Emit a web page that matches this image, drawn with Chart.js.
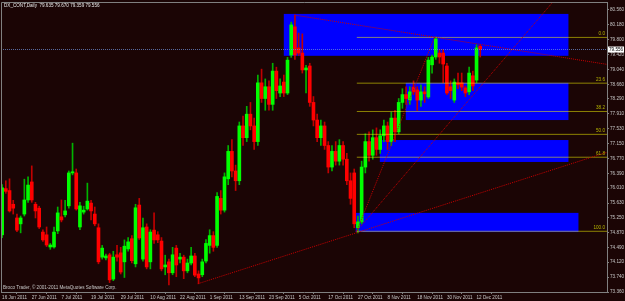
<!DOCTYPE html>
<html><head><meta charset="utf-8">
<script src="https://cdn.jsdelivr.net/npm/chart.js@4.4.1/dist/chart.umd.min.js"></script>
<style>html,body{margin:0;padding:0;background:#1b0505;overflow:hidden}</style>
</head><body><canvas id="c" width="625" height="301"></canvas>
<script>
// ---- data ----
const opens  = [74.82,76.00,75.95,75.60,75.25,75.10,75.35,75.71,76.17,75.60,75.50,74.89,74.82,74.51,74.51,74.92,75.28,75.33,75.56,76.40,76.40,75.02,75.40,75.48,75.63,75.35,75.00,74.25,74.23,74.31,73.69,74.31,74.36,74.13,74.46,74.72,74.08,75.58,74.20,75.02,74.13,74.94,74.82,74.66,74.00,74.13,73.85,74.48,74.20,74.25,73.90,74.10,74.28,73.82,73.80,74.15,74.55,74.80,74.55,75.75,75.45,76.25,76.95,76.45,76.20,77.60,77.30,77.90,77.60,77.20,78.70,78.30,78.60,78.15,79.00,78.44,78.72,78.44,79.41,80.13,79.59,79.46,79.03,79.13,78.20,77.75,77.30,77.60,77.10,76.55,76.95,76.70,77.10,76.75,76.20,76.40,75.00,75.15,76.55,77.20,76.85,77.30,77.00,77.35,77.60,77.20,77.80,77.45,78.20,78.40,78.26,78.59,78.52,78.26,78.47,78.34,79.16,79.36,79.46,79.46,79.13,78.60,78.26,78.70,78.70,78.57,78.47,78.88,78.77,79.635];
const highs  = [76.10,76.20,76.25,75.70,75.35,75.30,76.24,76.30,76.58,75.65,75.55,74.95,75.02,74.60,75.02,75.53,75.71,75.70,76.45,77.16,76.50,75.65,75.55,76.14,75.70,75.53,75.10,74.55,74.33,74.35,74.40,74.55,74.50,74.69,74.75,74.80,75.60,75.75,75.25,75.10,74.95,75.38,74.90,74.75,74.30,74.20,74.50,74.55,74.35,74.30,74.20,74.50,74.35,73.90,74.20,74.70,74.95,74.90,75.90,75.95,76.40,77.10,77.25,76.60,77.70,77.85,78.10,78.20,77.80,78.90,79.05,78.80,78.75,79.20,79.10,78.80,78.90,79.35,80.25,80.43,79.97,79.95,79.15,79.20,78.35,77.90,77.75,77.70,77.20,77.10,77.20,77.25,77.20,76.90,76.40,76.50,75.30,76.70,77.40,77.45,77.50,77.55,77.50,77.75,77.70,77.95,78.00,78.30,78.55,78.60,78.60,78.75,78.60,78.65,78.60,79.35,79.41,79.87,79.55,79.55,79.20,78.75,78.80,78.95,78.95,78.62,79.10,79.00,79.67,79.670];
const lows   = [74.75,75.88,75.40,75.35,74.90,74.87,75.30,75.65,75.65,75.25,74.98,74.65,74.52,74.45,74.48,74.85,75.15,75.28,75.50,76.35,75.45,74.95,75.35,75.45,75.20,75.05,74.08,74.20,74.18,73.60,73.65,74.15,73.82,73.73,74.40,74.10,74.00,74.70,74.15,73.95,73.95,74.60,74.62,73.90,73.80,73.54,73.80,73.75,74.10,73.70,73.85,74.05,73.75,73.57,73.75,74.10,74.35,74.40,74.50,75.35,75.40,76.10,76.30,75.95,76.10,77.10,77.20,77.50,77.00,77.10,78.20,78.00,78.00,78.00,78.30,78.35,78.35,78.40,79.35,79.30,79.40,78.95,78.44,78.10,77.60,77.20,77.10,77.00,76.40,76.45,76.60,76.60,76.60,76.10,75.60,75.00,74.87,75.10,76.40,76.70,76.75,76.85,76.90,77.20,77.00,77.10,77.20,77.40,78.05,78.15,78.15,78.40,78.00,78.10,78.20,78.30,78.95,79.30,79.20,78.70,78.40,78.30,78.20,78.55,78.50,78.35,78.40,78.50,78.70,79.359];
const closes = [76.02,75.93,75.43,75.50,74.94,75.25,75.71,76.09,75.71,75.43,75.02,74.69,74.56,74.56,74.89,75.38,75.20,75.43,76.40,76.43,75.48,75.56,75.45,75.68,75.43,75.10,74.13,74.48,74.28,73.67,74.25,74.25,73.87,74.53,74.64,74.16,75.51,74.74,75.00,74.00,74.89,74.69,74.69,73.95,74.05,73.85,74.31,74.05,74.25,73.90,74.10,74.28,73.79,73.72,74.13,74.60,74.80,74.50,75.80,75.45,76.30,76.95,76.45,76.20,77.60,77.30,77.90,77.60,77.20,78.70,78.30,78.60,78.15,79.00,78.50,78.62,78.44,79.28,80.18,79.41,79.46,79.03,79.08,78.20,77.75,77.30,77.60,77.10,76.55,76.95,76.70,77.10,76.75,76.20,75.75,75.10,75.15,76.55,77.20,76.85,77.30,77.00,77.35,77.60,77.20,77.80,77.45,78.20,78.40,78.30,78.47,78.47,78.26,78.47,78.42,79.28,79.36,79.82,79.36,79.18,78.44,78.50,78.72,78.65,78.59,78.44,78.95,78.62,79.59,79.556];

const xTickBars   = [0,8,16,24,32,40,48,56,64,72,80,88,96,104,112,120,128];
const xTickLabels = ['16 Jun 2011','27 Jun 2011','7 Jul 2011','19 Jul 2011','29 Jul 2011','10 Aug 2011','22 Aug 2011','1 Sep 2011','13 Sep 2011','23 Sep 2011','5 Oct 2011','17 Oct 2011','27 Oct 2011','8 Nov 2011','18 Nov 2011','30 Nov 2011','12 Dec 2011'];
const yTickValues = [80.56,80.18,79.80,79.42,79.04,78.66,78.29,77.91,77.53,77.15,76.77,76.39,76.01,75.63,75.25,74.87,74.49,74.12,73.74,73.36];
const yTickLabels = ['80.560','80.180','79.800','79.420','79.040','78.660','78.290','77.910','77.530','77.150','76.770','76.390','76.010','75.630','75.250','74.870','74.490','74.120','73.740','73.360'];

// zones (bar index / price)
const zoneStartBar = [76.0, 108.9, 101.9, 95.4];
const zoneEndBar   = [152.8, 152.8, 152.8, 155.5];
const zoneTop      = [80.46, 78.70, 77.24, 75.38];
const zoneBottom   = [79.39, 77.75, 76.68, 74.89];

// trend lines: anchor bar/price pairs
const trendBarA   = [78.9, 95.4, 52.8, 95.7];
const trendPriceA = [80.43, 74.89, 73.57, 74.92];
const trendBarB   = [163.3, 152.0, 163.3, 116.7];
const trendPriceB = [79.17, 81.14, 76.93, 79.87];

// fibonacci retracement
const fibHigh = 79.86, fibLow = 74.91, fibStartBar = 95.7;
const fibRatios = [0, 23.6, 38.2, 50.0, 61.8, 100.0];
const fibLabels = ['0.0','23.6','38.2','50.0','61.8','100.0'];

const symbolTitle = 'DX_CONT,Daily  79.635 79.670 79.359 79.556';
const copyrightText = 'Broco Trader, \u00a9 2001-2011 MetaQuotes Software Corp.';
const bidPrice = 79.556;

// ---- chart ----
const X_MIN = -0.3, X_MAX = 163.2, Y_MIN = 73.36, Y_MAX = 80.764;
const FONT = 'Liberation Sans';
const BG = '#1b0505';
const idx = opens.map((_, i) => i);
const up = idx.map(i => closes[i] >= opens[i]);

const datasets = [];
datasets.push({
  type: 'bar', label: 'bodies', order: 2, grouped: false,
  data: idx.map(i => ({x: i, y: [opens[i], closes[i]]})),
  backgroundColor: idx.map(i => up[i] ? '#00ff00' : '#ff0000'),
  borderWidth: 0, barThickness: 3, minBarLength: 1
});
datasets.push({
  type: 'bar', label: 'wicks', order: 3, grouped: false,
  data: idx.map(i => ({x: i, y: [lows[i], highs[i]]})),
  backgroundColor: idx.map(i => up[i] ? '#00b400' : '#c00000'),
  borderWidth: 0, barThickness: 1, minBarLength: 1
});
trendBarA.forEach((b, k) => {
  datasets.push({
    type: 'line', label: 'trend' + k, order: 1,
    data: [{x: b, y: trendPriceA[k]}, {x: trendBarB[k], y: trendPriceB[k]}],
    borderColor: '#c80000', borderWidth: 1, borderDash: [1, 1],
    pointRadius: 0, fill: false, tension: 0
  });
});
fibRatios.forEach((r, k) => {
  const p = fibHigh - (fibHigh - fibLow) * r / 100;
  datasets.push({
    type: 'line', label: 'fib' + k, order: 1,
    data: [{x: fibStartBar, y: p}, {x: X_MAX, y: p}],
    borderColor: 'rgba(255,255,0,0.5)', borderWidth: 1,
    pointRadius: 0, fill: false, tension: 0
  });
});

const overlay = {
  id: 'overlay',
  beforeDraw(chart) {
    const c = chart.ctx;
    c.save(); c.fillStyle = BG; c.fillRect(0, 0, chart.width, chart.height); c.restore();
  },
  beforeDatasetsDraw(chart) {
    const c = chart.ctx, xs = chart.scales.x, ys = chart.scales.y, a = chart.chartArea;
    c.save();
    c.beginPath(); c.rect(a.left, a.top, a.right - a.left, a.bottom - a.top); c.clip();
    c.fillStyle = '#0000ff';
    zoneStartBar.forEach((b, k) => {
      const x0 = xs.getPixelForValue(b), x1 = xs.getPixelForValue(zoneEndBar[k]);
      const y0 = ys.getPixelForValue(zoneTop[k]), y1 = ys.getPixelForValue(zoneBottom[k]);
      c.fillRect(x0, y0, x1 - x0, y1 - y0);
    });
    c.restore();
  },
  afterDatasetsDraw(chart) {
    const c = chart.ctx, xs = chart.scales.x, ys = chart.scales.y, a = chart.chartArea;
    c.save();
    // bid line
    const yb = Math.round(ys.getPixelForValue(bidPrice)) + 0.5;
    c.strokeStyle = 'rgba(110,140,210,0.75)'; c.lineWidth = 1; c.setLineDash([1,1]);
    c.beginPath(); c.moveTo(a.left, yb); c.lineTo(a.right, yb); c.stroke();
    c.setLineDash([]);
    // frame
    c.strokeStyle = '#808080';
    c.beginPath(); c.moveTo(a.left + 0.5, a.bottom); c.lineTo(a.left + 0.5, a.top + 0.5); c.lineTo(a.right, a.top + 0.5); c.stroke();
    // fib labels
    c.font = '4.6px "' + FONT + '"'; c.fillStyle = '#b8b800'; c.textAlign = 'right'; c.textBaseline = 'bottom';
    fibRatios.forEach((r, k) => {
      const p = fibHigh - (fibHigh - fibLow) * r / 100;
      c.fillText(fibLabels[k], a.right - 2, ys.getPixelForValue(p) - 1);
    });
    // title & copyright
    c.textAlign = 'left'; c.textBaseline = 'middle';
    c.fillStyle = '#e8e8e8'; c.fillText(symbolTitle, 4, 6);
    c.fillStyle = '#c8c8c8'; c.fillText(copyrightText, 3, 288);
    // bid box
    c.fillStyle = '#ffffff'; c.fillRect(a.right + 1, yb - 3, 16, 6);
    c.fillStyle = '#000000'; c.fillText(bidPrice.toFixed(3), a.right + 2, yb);
    c.restore();
  }
};

new Chart(document.getElementById('c'), {
  type: 'bar',
  data: { datasets },
  options: {
    responsive: false, animation: false, devicePixelRatio: 1,
    layout: { padding: { left: 1, top: 2, right: 0, bottom: 0 } },
    plugins: { legend: { display: false }, tooltip: { enabled: false } },
    scales: {
      x: {
        type: 'linear', min: X_MIN, max: X_MAX, offset: false,
        grid: { display: true, drawOnChartArea: false, drawTicks: true, tickLength: 2, color: '#808080' },
        border: { display: true, color: '#808080' },
        ticks: { autoSkip: false, maxRotation: 0, minRotation: 0, align: 'start', padding: 1,
          color: '#c8c8c8', font: { family: FONT, size: 4.6 },
          callback: (v, i) => xTickLabels[i] },
        afterBuildTicks: s => { s.ticks = xTickBars.map(v => ({ value: v })); },
        afterFit: s => { s.height = 9; s.paddingLeft = 0; s.paddingRight = 0; }
      },
      y: {
        type: 'linear', position: 'right', min: Y_MIN, max: Y_MAX,
        grid: { display: true, drawOnChartArea: false, drawTicks: true, tickLength: 2, color: '#808080' },
        border: { display: true, color: '#808080' },
        ticks: { padding: 1, color: '#c8c8c8', font: { family: FONT, size: 4.6 },
          callback: (v, i) => yTickLabels[i] },
        afterBuildTicks: s => { s.ticks = yTickValues.map(v => ({ value: v })); },
        afterFit: s => { s.width = 18; s.paddingTop = 0; s.paddingBottom = 0; }
      }
    }
  },
  plugins: [overlay]
});
</script>
</body></html>
